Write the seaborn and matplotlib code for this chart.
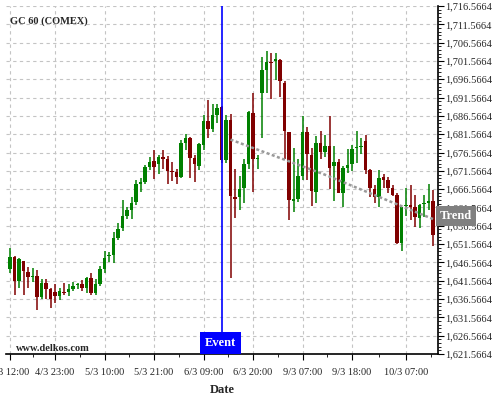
import seaborn as sns
import matplotlib
matplotlib.use("Agg")
import matplotlib.pyplot as plt
import matplotlib.ticker as mticker
from matplotlib.patches import Rectangle
import pandas as pd

# candle data (hourly)
opens = [1644.9, 1648.1, 1641.5, 1647.0, 1644.0, 1642.5, 1642.9, 1637.0, 1641.0, 1639.2,
         1638.4, 1637.4, 1638.6, 1638.6, 1639.2, 1640.4, 1640.6, 1639.5, 1642.4, 1638.1,
         1640.7, 1644.9, 1648.2, 1648.6, 1653.3, 1656.0, 1659.3, 1661.0, 1663.1, 1668.1,
         1668.6, 1672.7, 1674.3, 1673.3, 1675.4, 1674.9, 1671.5, 1671.3, 1669.8, 1679.2,
         1680.6, 1675.1, 1673.0, 1678.7, 1685.2, 1683.1, 1686.8, 1689.0, 1674.5, 1685.4,
         1664.5, 1664.3, 1666.8, 1673.3, 1687.4, 1674.9, 1692.9, 1699.0, 1701.3, 1701.5,
         1701.8, 1695.6, 1682.2, 1663.3, 1664.0, 1670.2, 1682.2, 1676.0, 1665.7, 1679.2,
         1676.7, 1678.4, 1672.8, 1674.0, 1665.4, 1672.4, 1673.3, 1677.8, 1678.1, 1679.8,
         1671.9, 1666.7, 1664.5, 1669.8, 1669.2, 1667.0, 1665.1, 1652.0, 1661.9, 1662.2,
         1661.7, 1658.8, 1662.4, 1662.7, 1663.3]
highs = [1650.6, 1648.3, 1647.7, 1647.0, 1645.4, 1645.0, 1644.5, 1642.0, 1642.0, 1639.5,
         1640.8, 1639.7, 1640.9, 1640.6, 1641.3, 1641.0, 1641.8, 1642.7, 1643.6, 1642.0,
         1645.6, 1649.7, 1649.5, 1654.9, 1657.4, 1663.6, 1661.7, 1664.3, 1669.0, 1669.7,
         1673.1, 1675.4, 1677.2, 1675.8, 1677.2, 1675.6, 1674.0, 1672.2, 1679.9, 1681.7,
         1680.8, 1675.8, 1679.2, 1686.8, 1690.8, 1689.8, 1689.8, 1689.2, 1686.8, 1687.2,
         1672.2, 1670.2, 1674.7, 1687.9, 1692.7, 1676.0, 1702.7, 1704.2, 1703.6, 1703.8,
         1702.2, 1696.0, 1682.2, 1677.8, 1674.7, 1686.6, 1683.4, 1677.7, 1681.0, 1682.4,
         1681.3, 1686.5, 1678.3, 1674.9, 1672.9, 1677.5, 1678.7, 1682.4, 1680.4, 1681.3,
         1672.2, 1667.7, 1671.8, 1670.8, 1669.9, 1667.7, 1665.4, 1661.7, 1666.9, 1667.7,
         1664.9, 1662.4, 1665.1, 1667.9, 1666.3]
lows = [1643.8, 1637.8, 1639.7, 1637.7, 1639.7, 1641.1, 1633.6, 1636.6, 1636.7, 1634.2,
        1635.4, 1636.3, 1637.8, 1637.4, 1638.8, 1639.2, 1638.8, 1638.1, 1637.8, 1637.8,
        1640.0, 1643.8, 1646.8, 1646.3, 1652.7, 1655.1, 1658.4, 1658.4, 1662.2, 1665.8,
        1667.9, 1671.7, 1669.3, 1670.8, 1672.2, 1668.1, 1668.8, 1668.1, 1669.5, 1677.2,
        1669.7, 1668.4, 1671.8, 1677.2, 1680.4, 1682.2, 1684.5, 1673.6, 1673.6, 1642.2,
        1658.6, 1660.8, 1662.7, 1672.2, 1665.8, 1672.0, 1680.6, 1692.7, 1691.1, 1696.3,
        1691.7, 1674.9, 1658.1, 1660.2, 1663.1, 1669.0, 1669.0, 1662.0, 1662.9, 1674.9,
        1675.4, 1666.6, 1663.3, 1665.4, 1661.8, 1671.0, 1671.5, 1673.6, 1676.3, 1670.8,
        1664.5, 1662.7, 1661.8, 1666.8, 1665.4, 1664.8, 1651.6, 1649.7, 1659.3, 1658.1,
        1656.3, 1656.0, 1659.0, 1660.8, 1651.1]
closes = [1648.1, 1641.5, 1647.4, 1644.2, 1642.5, 1642.7, 1637.0, 1641.0, 1639.2, 1636.7,
          1637.4, 1638.8, 1638.3, 1639.2, 1640.2, 1640.6, 1639.5, 1642.4, 1638.1, 1640.7,
          1644.9, 1647.8, 1648.4, 1653.3, 1655.8, 1659.3, 1661.0, 1662.8, 1668.1, 1668.6,
          1672.7, 1674.0, 1672.5, 1675.4, 1674.9, 1671.5, 1671.3, 1669.8, 1679.2, 1680.6,
          1675.1, 1673.3, 1678.9, 1685.2, 1683.1, 1686.8, 1688.8, 1674.5, 1685.4, 1664.7,
          1664.0, 1666.5, 1673.3, 1687.7, 1674.9, 1675.2, 1699.0, 1701.3, 1701.0, 1702.0,
          1696.0, 1682.4, 1663.6, 1663.8, 1670.2, 1682.2, 1676.3, 1666.1, 1679.2, 1676.7,
          1678.3, 1672.4, 1674.0, 1665.4, 1672.4, 1673.1, 1677.5, 1678.1, 1678.4, 1671.9,
          1666.9, 1664.3, 1669.7, 1669.2, 1667.0, 1665.1, 1652.0, 1661.7, 1662.2, 1661.7,
          1659.0, 1662.2, 1662.7, 1663.3, 1654.0]

tick_pos = [0, 10, 21, 32, 43, 54, 65, 76, 88]
tick_labels = ["4/3 12:00", "4/3 23:00", "5/3 10:00", "5/3 21:00", "6/3 09:00",
               "6/3 20:00", "9/3 07:00", "9/3 18:00", "10/3 07:00"]
event_idx = 47
trend_idx = [49, 70, 94]
trend_val = [1680.1, 1670.5, 1658.4]

y_min, y_max = 1621.5664, 1716.5664

df = pd.DataFrame({"open": opens, "high": highs, "low": lows, "close": closes})
df["idx"] = range(len(df))
df["up"] = df["close"] >= df["open"]
df["color"] = df["up"].map({True: "#008000", False: "#800000"})

sns.set_style("whitegrid", {"grid.color": "#c4c4c4", "grid.linestyle": (0, (3, 3))})
plt.rcParams["font.family"] = ["Liberation Serif", "DejaVu Serif"]

fig = plt.figure(figsize=(5, 4), dpi=100)
ax = fig.add_axes([0.012, 0.115, 0.864, 0.87])

# wicks
ax.vlines(df["idx"], df["low"], df["high"], colors=df["color"], linewidth=1.1, zorder=3)
# bodies
body_bot = df[["open", "close"]].min(axis=1)
body_h = (df["close"] - df["open"]).abs().clip(lower=0.3)
ax.bar(df["idx"], body_h, bottom=body_bot, width=0.8, color=df["color"],
       linewidth=0, zorder=4)

# trend
sns.lineplot(x=trend_idx, y=trend_val, ax=ax, color="#9a9a9a", linewidth=1.8,
             linestyle=(0, (1.2, 1.0)), zorder=5)

# event line + label box
ax.axvline(event_idx, color="#0000ff", linewidth=1.2, zorder=6)
ax.add_patch(Rectangle((42.2, y_min), 9.1, 6.0, facecolor="#0000ff", edgecolor="none",
                       zorder=7, clip_on=False))
ax.text(46.75, y_min + 3.0, "Event", color="white", fontsize=9, fontweight="bold",
        ha="center", va="center", zorder=8)

ax.set_xlim(-0.9, 95.1)
ax.set_ylim(y_min, y_max)

ax.yaxis.tick_right()
ax.yaxis.set_major_locator(mticker.FixedLocator([y_min + 5 * k for k in range(20)]))
ax.yaxis.set_minor_locator(mticker.FixedLocator([y_min + k for k in range(96)]))
ax.yaxis.set_major_formatter(mticker.FuncFormatter(lambda v, p: f"{v:,.4f}"))
ax.set_xticks(tick_pos)
ax.set_xticklabels(tick_labels)
ax.xaxis.set_minor_locator(mticker.FixedLocator([5, 15.5, 26.5, 37.5, 48.5, 59.5, 70.5, 82, 93.5]))
ax.tick_params(axis="both", which="major", labelsize=7.5, length=4, width=0.8,
               color="black", direction="out", pad=1)
ax.tick_params(axis="x", which="major", pad=6)
ax.tick_params(axis="both", which="minor", length=2, width=0.6, color="black", direction="out")
ax.tick_params(axis="y", which="both", right=True, left=False)
ax.tick_params(axis="x", which="both", bottom=True)
ax.grid(True, which="major")

for side in ["top", "left"]:
    ax.spines[side].set_visible(False)
for side in ["right", "bottom"]:
    ax.spines[side].set_color("black")
    ax.spines[side].set_linewidth(1.2)

ax.set_xlabel("Date", fontsize=9, fontweight="bold", labelpad=5)
ax.text(0.01, 0.955, "GC 60 (COMEX)", transform=ax.transAxes, fontsize=7.5,
        fontweight="bold", ha="left", va="center")
ax.text(0.022, 0.004, "www.delkos.com", transform=ax.transAxes, fontsize=7.5,
        fontweight="bold", ha="left", va="bottom")
ax.text(1.042, 0.397, "Trend", transform=ax.transAxes, fontsize=9, fontweight="bold",
        color="white", ha="center", va="center", zorder=8, clip_on=False,
        bbox=dict(boxstyle="square,pad=0.3", facecolor="#808080", edgecolor="none"))

fig.savefig("out.png", dpi=100)
